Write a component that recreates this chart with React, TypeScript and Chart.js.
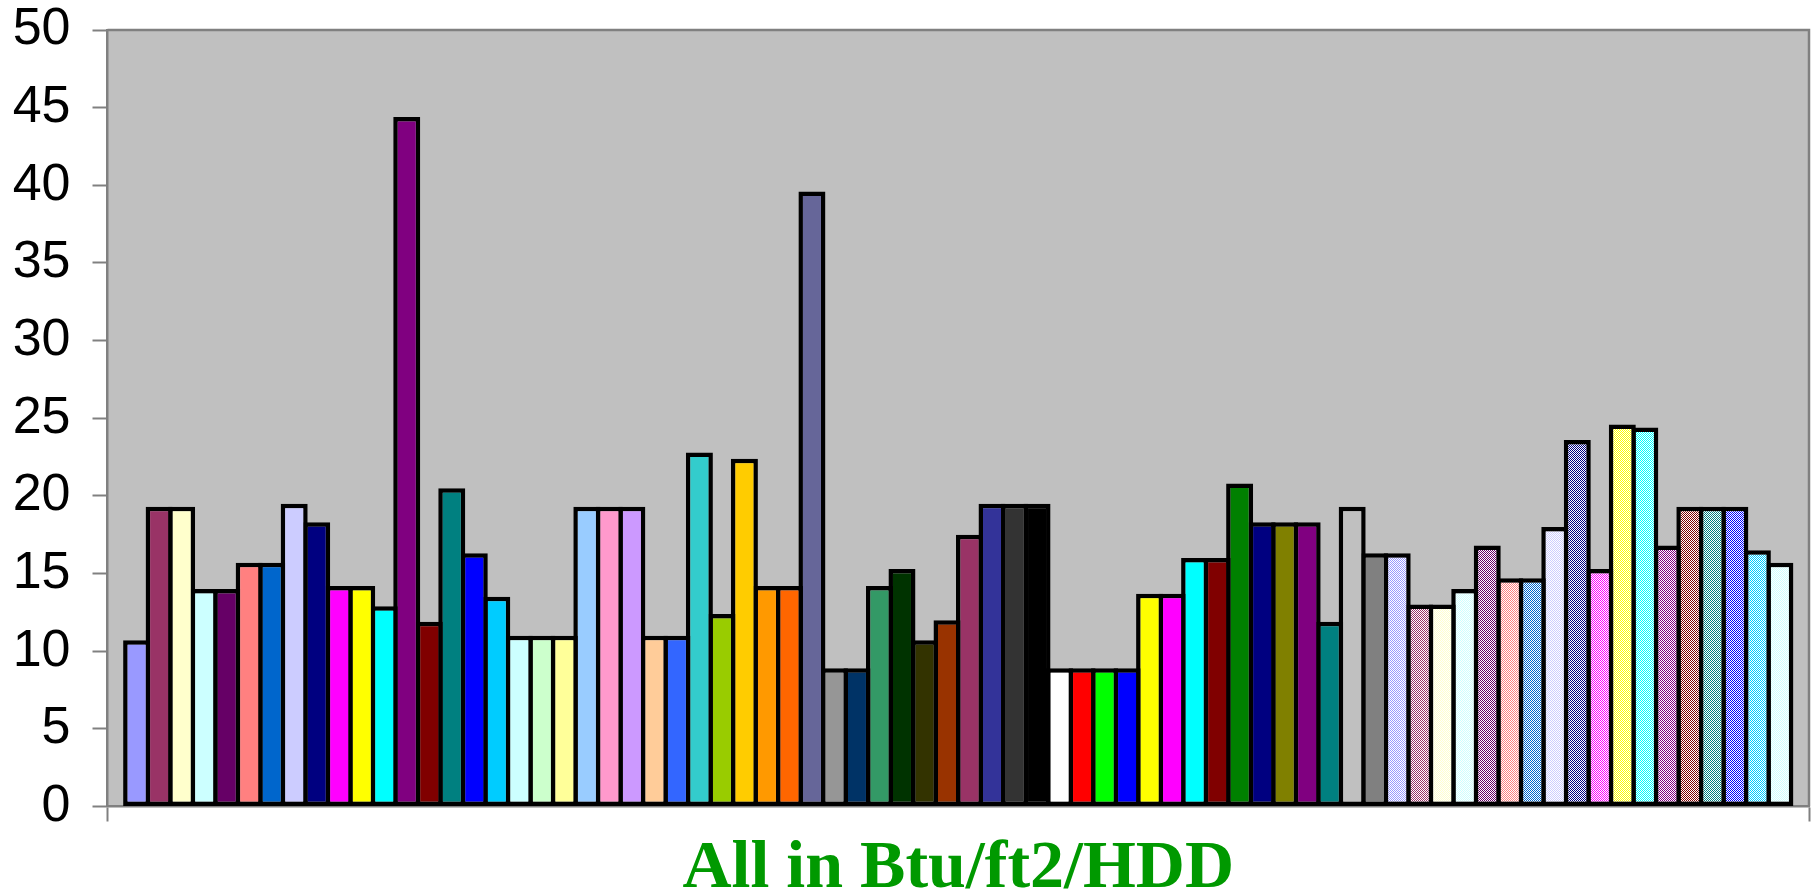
import React, { useEffect, useRef } from 'react';
import { Chart, registerables } from 'chart.js';

Chart.register(...registerables);

// ---- data ----
const categories = [''];

const values = [
  10.7, 19.3, 19.3, 14.0, 14.0, 15.7, 15.7, 19.5, 18.3, 14.2,
  14.2, 12.9, 44.4, 11.9, 20.5, 16.3, 13.5, 11.0, 11.0, 11.0,
  19.3, 19.3, 19.3, 11.0, 11.0, 22.8, 12.4, 22.4, 14.2, 14.2,
  39.6, 8.9, 8.9, 14.2, 15.3, 10.7, 12.0, 17.5, 19.5, 19.5,
  19.5, 8.9, 8.9, 8.9, 8.9, 13.7, 13.7, 16.0, 16.0, 20.8,
  18.3, 18.3, 18.3, 11.9, 19.3, 16.3, 16.3, 13.0, 13.0, 14.0,
  16.8, 14.7, 14.7, 18.0, 23.6, 15.3, 24.6, 24.4, 16.8, 19.3,
  19.3, 19.3, 16.5, 15.7,
];

// solid fills (first 56 series)
const solidColors = [
  '#9999FF', '#993366', '#FFFFCC', '#CCFFFF', '#660066', '#FF8080', '#0066CC', '#CCCCFF',
  '#000080', '#FF00FF', '#FFFF00', '#00FFFF', '#800080', '#800000', '#008080', '#0000FF',
  '#00CCFF', '#CCFFFF', '#CCFFCC', '#FFFF99', '#99CCFF', '#FF99CC', '#CC99FF', '#FFCC99',
  '#3366FF', '#33CCCC', '#99CC00', '#FFCC00', '#FF9900', '#FF6600', '#666699', '#969696',
  '#003366', '#339966', '#003300', '#333300', '#993300', '#993366', '#333399', '#333333',
  '#000000', '#FFFFFF', '#FF0000', '#00FF00', '#0000FF', '#FFFF00', '#FF00FF', '#00FFFF',
  '#800000', '#008000', '#000080', '#808000', '#800080', '#008080', '#C0C0C0', '#808080',
];

// patterned fills (remaining series): foreground colour on white
const patternColors = [
  '#9999FF', '#993366', '#FFFFCC', '#CCFFFF', '#660066', '#FF8080', '#0066CC', '#CCCCFF',
  '#000080', '#FF00FF', '#FFFF00', '#00FFFF', '#800080', '#800000', '#008080', '#0000FF',
  '#00CCFF', '#CCFFFF',
];

const yMin = 0;
const yMax = 50;
const yStep = 5;
const xTitle = 'All in Btu/ft2/HDD';

function makePattern(color: string): CanvasPattern | string {
  const c = document.createElement('canvas');
  c.width = 2;
  c.height = 2;
  const g = c.getContext('2d');
  if (!g) return color;
  g.fillStyle = '#FFFFFF';
  g.fillRect(0, 0, 2, 2);
  g.fillStyle = color;
  g.fillRect(0, 0, 1, 1);
  g.fillRect(1, 1, 1, 1);
  const p = g.createPattern(c, 'repeat');
  return p || color;
}

const plotFramePlugin = {
  id: 'plotFrame',
  beforeDraw(chart: any) {
    const { ctx, chartArea } = chart;
    if (!chartArea) return;
    ctx.save();
    ctx.fillStyle = '#C0C0C0';
    ctx.fillRect(chartArea.left, chartArea.top, chartArea.right - chartArea.left, chartArea.bottom - chartArea.top);
    ctx.restore();
  },
  beforeDatasetsDraw(chart: any) {
    const { ctx, chartArea } = chart;
    if (!chartArea) return;
    ctx.save();
    ctx.strokeStyle = '#808080';
    ctx.lineWidth = 2.5;
    ctx.beginPath();
    ctx.moveTo(chartArea.left, chartArea.top);
    ctx.lineTo(chartArea.right, chartArea.top);
    ctx.lineTo(chartArea.right, chartArea.bottom);
    ctx.stroke();
    ctx.restore();
  },
};

function zeroPadding(scale: any) {
  scale.paddingTop = 0;
  scale.paddingBottom = 0;
  scale.paddingLeft = 0;
  scale.paddingRight = 0;
}

export default function App() {
  const canvasRef = useRef<HTMLCanvasElement | null>(null);

  useEffect(() => {
    const canvas = canvasRef.current;
    if (!canvas) return;

    const datasets = values.map((v, i) => ({
      label: 'Series ' + (i + 1),
      data: [v],
      backgroundColor: i < solidColors.length ? solidColors[i] : makePattern(patternColors[i - solidColors.length]),
      borderColor: '#000000',
      borderWidth: 4.5,
      borderSkipped: false as const,
      barPercentage: 1.2,
      categoryPercentage: 0.979,
    }));

    const chart = new Chart(canvas, {
      type: 'bar',
      data: { labels: categories, datasets },
      plugins: [plotFramePlugin],
      options: {
        animation: false,
        responsive: false,
        maintainAspectRatio: false,
        devicePixelRatio: 1,
        layout: { padding: { top: 30, right: 3, left: 0, bottom: 0 } },
        plugins: {
          legend: { display: false },
          tooltip: { enabled: false },
          title: { display: false },
        },
        scales: {
          x: {
            offset: true,
            grid: {
              drawOnChartArea: false,
              drawTicks: true,
              tickLength: 15,
              tickColor: '#808080',
              tickWidth: 2,
            },
            border: { display: true, color: '#808080', width: 2.5 },
            ticks: { display: false },
            title: {
              display: true,
              text: xTitle,
              color: '#009900',
              padding: 0,
              font: { family: "'Liberation Serif', 'Times New Roman', serif", size: 68, weight: 'bold', lineHeight: 0.75 },
            },
            afterFit(scale: any) {
              scale.height = 88.5;
              zeroPadding(scale);
            },
          },
          y: {
            min: yMin,
            max: yMax,
            grid: {
              drawOnChartArea: false,
              drawTicks: true,
              tickLength: 15,
              tickColor: '#808080',
              tickWidth: 2,
            },
            border: { display: true, color: '#808080', width: 2.5 },
            ticks: {
              stepSize: yStep,
              color: '#000000',
              padding: 22,
              font: { family: "'Liberation Sans', Arial, sans-serif", size: 52, lineHeight: 1.2 },
            },
            afterFit(scale: any) {
              scale.width = 107.5;
              zeroPadding(scale);
            },
          },
        },
      },
    });

    return () => {
      chart.destroy();
    };
  }, []);

  return (
    <div style={{ position: 'fixed', left: 0, top: 0, width: 1812, height: 895, background: '#FFFFFF' }}>
      <canvas ref={canvasRef} width={1812} height={895} style={{ display: 'block', width: 1812, height: 895 }} />
    </div>
  );
}
